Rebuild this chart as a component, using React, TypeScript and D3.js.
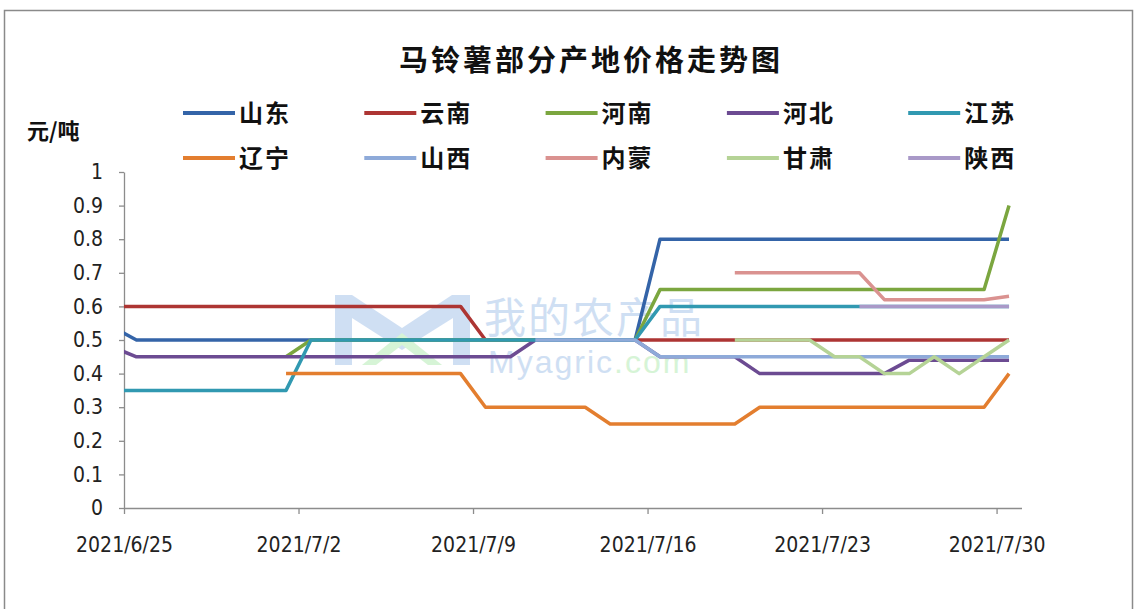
import { useEffect, useRef } from 'react';
import * as d3 from 'd3';

// 6/24 (clipped at the axis start) through 7/30
const dates: Date[] = d3.timeDay.range(new Date(2021, 5, 24), new Date(2021, 6, 31));

const seriesNames = ['山东', '云南', '河南', '河北', '江苏', '辽宁', '山西', '内蒙', '甘肃', '陕西'];
const seriesColors = ['#3464a8', '#ad3533', '#7ba63f', '#6c4b92', '#3199b1', '#e37e2f', '#8eaad9', '#da9290', '#b5d396', '#a999c8'];

const _ = null;
const shandong = [0.54, 0.5, 0.5, 0.5, 0.5, 0.5, 0.5, 0.5, 0.5, 0.5, 0.5, 0.5, 0.5, 0.5, 0.5, 0.5, 0.5, 0.5, 0.5, 0.5, 0.5, 0.5,
  0.8, 0.8, 0.8, 0.8, 0.8, 0.8, 0.8, 0.8, 0.8, 0.8, 0.8, 0.8, 0.8, 0.8, 0.8];
const yunnan = [0.6, 0.6, 0.6, 0.6, 0.6, 0.6, 0.6, 0.6, 0.6, 0.6, 0.6, 0.6, 0.6, 0.6, 0.6,
  0.5, 0.5, 0.5, 0.5, 0.5, 0.5, 0.5, 0.5, 0.5, 0.5, 0.5, 0.5, 0.5, 0.5, 0.5, 0.5, 0.5, 0.5, 0.5, 0.5, 0.5, 0.5];
const henan = [_, _, _, _, _, _, _, 0.45, 0.5, 0.5, 0.5, 0.5, 0.5, 0.5, 0.5, 0.5, 0.5, 0.5, 0.5, 0.5, 0.5, 0.5,
  0.65, 0.65, 0.65, 0.65, 0.65, 0.65, 0.65, 0.65, 0.65, 0.65, 0.65, 0.65, 0.65, 0.65, 0.9];
const hebei = [0.48, 0.45, 0.45, 0.45, 0.45, 0.45, 0.45, 0.45, 0.45, 0.45, 0.45, 0.45, 0.45, 0.45, 0.45, 0.45, 0.45,
  0.5, 0.5, 0.5, 0.5, 0.5, 0.45, 0.45, 0.45, 0.45, 0.4, 0.4, 0.4, 0.4, 0.4, 0.4, 0.44, 0.44, 0.44, 0.44, 0.44];
const jiangsu = [0.35, 0.35, 0.35, 0.35, 0.35, 0.35, 0.35, 0.35, 0.5, 0.5, 0.5, 0.5, 0.5, 0.5, 0.5, 0.5, 0.5, 0.5, 0.5, 0.5, 0.5, 0.5,
  0.6, 0.6, 0.6, 0.6, 0.6, 0.6, 0.6, 0.6, 0.6, 0.6, 0.6, 0.6, 0.6, 0.6, 0.6];
const liaoning = [_, _, _, _, _, _, _, 0.4, 0.4, 0.4, 0.4, 0.4, 0.4, 0.4, 0.4, 0.3, 0.3, 0.3, 0.3, 0.3,
  0.25, 0.25, 0.25, 0.25, 0.25, 0.25, 0.3, 0.3, 0.3, 0.3, 0.3, 0.3, 0.3, 0.3, 0.3, 0.3, 0.4];
const shanxi = [_, _, _, _, _, _, _, _, _, _, _, _, _, _, _, _, _, 0.5, 0.5, 0.5, 0.5, 0.5,
  0.45, 0.45, 0.45, 0.45, 0.45, 0.45, 0.45, 0.45, 0.45, 0.45, 0.45, 0.45, 0.45, 0.45, 0.45];
const neimeng = [_, _, _, _, _, _, _, _, _, _, _, _, _, _, _, _, _, _, _, _, _, _, _, _, _,
  0.7, 0.7, 0.7, 0.7, 0.7, 0.7, 0.62, 0.62, 0.62, 0.62, 0.62, 0.63];
const gansu = [_, _, _, _, _, _, _, _, _, _, _, _, _, _, _, _, _, _, _, _, _, _, _, _, _,
  0.5, 0.5, 0.5, 0.5, 0.45, 0.45, 0.4, 0.4, 0.45, 0.4, 0.45, 0.5];
const shaanxi = [_, _, _, _, _, _, _, _, _, _, _, _, _, _, _, _, _, _, _, _, _, _, _, _, _, _, _, _, _, _,
  0.6, 0.6, 0.6, 0.6, 0.6, 0.6, 0.6];

const seriesValues = [shandong, yunnan, henan, hebei, jiangsu, liaoning, shanxi, neimeng, gansu, shaanxi];

const xTicks = [new Date(2021, 5, 25), new Date(2021, 6, 2), new Date(2021, 6, 9), new Date(2021, 6, 16), new Date(2021, 6, 23), new Date(2021, 6, 30)];
const yTicks = [0, 0.1, 0.2, 0.3, 0.4, 0.5, 0.6, 0.7, 0.8, 0.9, 1];

const App = () => {
  const svgRef = useRef<SVGSVGElement>(null);

  useEffect(() => {
    const svg = d3.select(svgRef.current);
    svg.selectAll('*').remove();

    const left = 124;
    const right = 1021.5;
    const top = 172;
    const bottom = 508;

    const x = d3.scaleTime().domain([new Date(2021, 5, 25), new Date(2021, 6, 31)]).range([left, right]);
    const y = d3.scaleLinear().domain([0, 1]).range([bottom, top]);
    // points sit in the middle of each day slot
    const mid = (d: Date) => x(d3.timeHour.offset(d, 12));

    const cjk = '"Noto Sans CJK SC", sans-serif';
    const num = '"Liberation Sans Narrow", "DejaVu Sans Condensed", "Liberation Sans", sans-serif';

    // frame
    svg.append('rect')
      .attr('x', 4.5).attr('y', 10.5).attr('width', 1128).attr('height', 640)
      .attr('fill', '#fff').attr('stroke', '#8a8a8a').attr('stroke-width', 1.5);

    // title
    svg.append('text')
      .attr('x', 591).attr('y', 71)
      .attr('text-anchor', 'middle')
      .attr('font-family', cjk).attr('font-size', 29).attr('font-weight', 'bold')
      .attr('letter-spacing', 3)
      .attr('fill', '#111')
      .text('马铃薯部分产地价格走势图');

    svg.append('text')
      .attr('x', 27).attr('y', 139)
      .attr('font-family', cjk).attr('font-size', 22).attr('font-weight', 'bold')
      .attr('fill', '#111')
      .text('元/吨');

    // legend
    seriesNames.forEach((name, i) => {
      const col = i % 5;
      const row = Math.floor(i / 5);
      const g = svg.append('g').attr('transform', `translate(${183 + col * 181.3},${113 + row * 45})`);
      g.append('line').attr('x1', 0).attr('x2', 52).attr('y1', 0).attr('y2', 0)
        .attr('stroke', seriesColors[i]).attr('stroke-width', 4);
      g.append('text').attr('x', 56).attr('y', 9)
        .attr('font-family', cjk).attr('font-size', 24).attr('font-weight', 'bold')
        .attr('letter-spacing', 2).attr('fill', '#111')
        .text(name);
    });

    // watermark
    const wm = svg.append('g').attr('opacity', 0.8);
    wm.append('path')
      .attr('d', 'M335,365 L335,295 L352,295 L402,328 L452,295 L470,295 L470,365 L453,365 L453,318 L402,350 L352,318 L352,365 Z')
      .attr('fill', '#c4d8f1');
    wm.append('path')
      .attr('d', 'M362,365 L402,333 L442,365 L428,365 L402,345 L376,365 Z')
      .attr('fill', '#cdf2cd');
    wm.append('text').attr('x', 484).attr('y', 333)
      .attr('font-family', cjk).attr('font-size', 42).attr('letter-spacing', 2).attr('fill', '#c4d8f1')
      .text('我的农产品');
    const wmt = wm.append('text').attr('x', 488).attr('y', 373)
      .attr('font-family', '"Liberation Sans", sans-serif').attr('font-size', 32).attr('letter-spacing', 2);
    wmt.append('tspan').attr('fill', '#c4d8f1').text('Myagric');
    wmt.append('tspan').attr('fill', '#cdf2cd').text('.com');

    // axes
    const yAxis = svg.append('g')
      .attr('transform', `translate(${left},0)`)
      .call(d3.axisLeft(y).tickValues(yTicks).tickSize(5).tickSizeOuter(0).tickPadding(16).tickFormat((d) => d3.format('~g')(d as number)));
    yAxis.select('.domain').attr('stroke', '#8c8c8c').attr('stroke-width', 1.3);
    yAxis.selectAll('.tick line').attr('stroke', '#8c8c8c').attr('stroke-width', 1.3);
    yAxis.selectAll('.tick text').attr('font-family', num).attr('font-size', 21).attr('fill', '#222');

    const xAxis = svg.append('g')
      .attr('transform', `translate(0,${bottom})`)
      .call(d3.axisBottom(x).tickValues(xTicks).tickSize(6).tickSizeOuter(0).tickPadding(23).tickFormat((d) => d3.timeFormat('%Y/%-m/%-d')(d as Date)));
    xAxis.select('.domain').attr('stroke', '#8c8c8c').attr('stroke-width', 1.3);
    xAxis.selectAll('.tick line').attr('stroke', '#8c8c8c').attr('stroke-width', 1.3);
    xAxis.selectAll('.tick text').attr('font-family', num).attr('font-size', 21).attr('fill', '#222');

    // lines
    svg.append('clipPath').attr('id', 'plot-clip')
      .append('rect').attr('x', left).attr('y', top - 20).attr('width', right - left).attr('height', bottom - top + 20);

    const plot = svg.append('g').attr('clip-path', 'url(#plot-clip)');
    seriesValues.forEach((vals, i) => {
      const pts = dates.map((d, k) => ({ d, v: vals[k] })).filter((p) => p.v !== null) as { d: Date; v: number }[];
      const line = d3.line<{ d: Date; v: number }>().x((p) => mid(p.d)).y((p) => y(p.v));
      plot.append('path')
        .datum(pts)
        .attr('fill', 'none')
        .attr('stroke', seriesColors[i])
        .attr('stroke-width', 3.5)
        .attr('stroke-linejoin', 'round')
        .attr('d', line);
    });
  }, []);

  return <svg ref={svgRef} width={1138} height={609} style={{ position: 'absolute', left: 0, top: 0 }} />;
};

export default App;
